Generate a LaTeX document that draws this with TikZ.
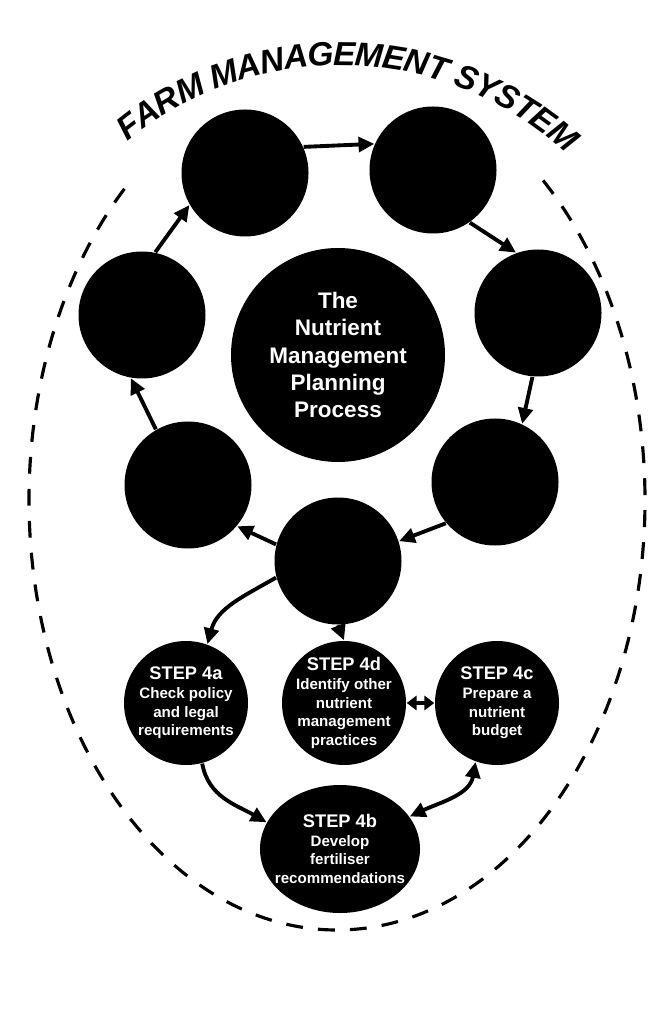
\documentclass[tikz,border=0pt]{standalone}
\usepackage{fontspec}
\setmainfont{Liberation Sans}
\usepackage{tikz}
\usetikzlibrary{arrows.meta,shapes,positioning,calc,decorations.text}

\tikzset{
    stage/.style={circle, fill=black, inner sep=0pt, minimum size=1.27cm},
    stepball/.style={circle, fill=black, inner sep=0pt, minimum size=1.24cm},
    steptext/.style={text=white, align=center, inner sep=0pt, font=\bfseries\fontsize{4.3}{5.3}\selectfont},
    flow/.style={-{Triangle[length=4.5pt,width=4.2pt]}, line width=1.1pt},
    twoway/.style={{Triangle[length=4.5pt,width=4.2pt]}-{Triangle[length=4.5pt,width=4.2pt]}, line width=1.1pt},
    shortway/.style={{Triangle[length=2.8pt,width=4pt]}-{Triangle[length=2.8pt,width=4pt]}, line width=1.1pt},
}
\newcommand{\steplabel}[1]{{\fontsize{5.2}{6.2}\selectfont STEP #1}\\}

\begin{document}
\begin{tikzpicture}[scale=1.0]
    \useasboundingbox (0,0) rectangle (6.64,-10.11);

    % 外圈虚线
    \draw[line width=0.9pt, dash pattern=on 4.8pt off 4.3pt]
        (3.37,-5.00) ++(48:3.08 and 4.30) arc[start angle=48, end angle=-228, x radius=3.08, y radius=4.30];

    % 标题
    \path[decorate, decoration={text along path, text align=center, raise=-3.5pt,
        text={|\bfseries\itshape\fontsize{9.5}{9.5}\selectfont|FARM MANAGEMENT SYSTEM}}]
        (3.40,-4.00) ++(128:3.47) arc[start angle=128, end angle=49, radius=3.47];

    % 循环中的七个圆
    \node[stage] (c1) at (2.45,-1.73) {};
    \node[stage] (c2) at (4.33,-1.70) {};
    \node[stage] (c3) at (5.38,-3.13) {};
    \node[stage] (c4) at (4.95,-4.82) {};
    \node[stage] (c5) at (3.38,-5.61) {};
    \node[stage] (c6) at (1.88,-4.85) {};
    \node[stage] (c7) at (1.42,-3.15) {};

    % 中心
    \node[stage, minimum size=2.14cm, text=white, align=center,
        font=\bfseries\fontsize{6.4}{7.7}\selectfont] (hub) at (3.38,-3.55)
        {The\\Nutrient\\Management\\Planning\\Process};

    % 循环箭头
    \draw[flow] (c1.24) -- (c2.156);
    \draw[flow] (c2.-55) -- (c3.110);
    \draw[flow] (c3.-95) -- (c4.65);
    \draw[flow] (c4.-140) -- (c5.18);
    \draw[flow] (c5.165) -- (c6.-40);
    \draw[flow] (c6.120) -- (c7.-100);
    \draw[flow] (c7.78) -- (c1.-150);

    % 第四步的子步骤
    \node[stepball] (s4a) at (1.86,-7.03) {};
    \node[stepball] (s4d) at (3.44,-7.03) {};
    \node[stepball] (s4c) at (4.97,-7.03) {};
    \node[stepball, ellipse, minimum width=1.60cm, minimum height=1.28cm] (s4b) at (3.40,-8.49) {};
    \node[steptext] (t4a) at (s4a) {\steplabel{4a}Check policy\\and legal\\requirements};
    \node[steptext] (t4d) at (s4d) {\steplabel{4d}Identify other\\nutrient\\management\\practices};
    \node[steptext] (t4c) at (s4c) {\steplabel{4c}Prepare a\\nutrient\\budget};
    \node[steptext] (t4b) at (s4b) {\steplabel{4b}Develop\\fertiliser\\recommendations};

    % 子步骤箭头
    \draw[flow] (c5.south) -- (s4d.north);
    \draw[flow] (c5.195) to[out=210,in=75] (s4a.70);
    \draw[shortway] (s4d.east) -- (s4c.west);
    \draw[flow] (s4a.-75) to[out=-80,in=150] (s4b.160);
    \draw[twoway] (s4c.-110) to[out=-100,in=25] (s4b.25);
\end{tikzpicture}
\end{document}
